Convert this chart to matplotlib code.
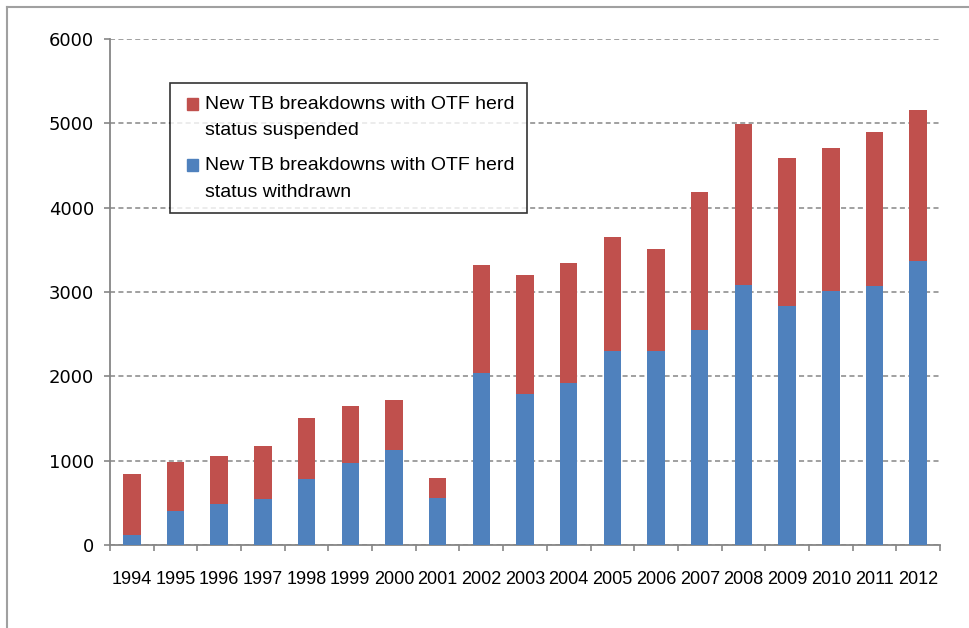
import matplotlib.pyplot as plt
import numpy as np
from matplotlib.lines import Line2D
from matplotlib.patches import Rectangle, Patch
from matplotlib.legend_handler import HandlerPatch

# data
years = [str(y) for y in range(1994, 2013)]
withdrawn = [114, 404, 485, 542, 779, 969, 1121, 561, 2038, 1786,
             1924, 2295, 2295, 2546, 3088, 2836, 3012, 3074, 3363]
totals = [846, 988, 1059, 1178, 1511, 1648, 1724, 793, 3321, 3207,
          3344, 3653, 3515, 4181, 4998, 4594, 4708, 4903, 5154]
suspended = [t - w for t, w in zip(totals, withdrawn)]

blue = '#4F81BD'
red = '#C0504D'
grey = '#868686'

lbl_withdrawn = 'New TB breakdowns with OTF herd\nstatus withdrawn'
lbl_suspended = 'New TB breakdowns with OTF herd\nstatus suspended'

plt.rcParams['font.family'] = ['Liberation Sans', 'DejaVu Sans']

fig = plt.figure(figsize=(9.69, 6.28), dpi=100)
ax = fig.add_axes([110 / 969, 83 / 628, 830 / 969, 506 / 628])

x = np.arange(len(years))
ax.bar(x, withdrawn, width=0.4, color=blue, zorder=3)
ax.bar(x, suspended, width=0.4, bottom=withdrawn, color=red, zorder=3)

ax.set_xlim(-0.5, len(years) - 0.5)
ax.set_ylim(0, 6000)
ax.set_yticks(range(0, 6001, 1000))
ax.set_xticks(x)
ax.set_xticklabels(years)
ax.set_xticks(np.arange(-0.5, len(years)), minor=True)
ax.tick_params(axis='x', which='major', length=0, pad=19, labelsize=13)
ax.tick_params(axis='x', which='minor', length=4.5, color=grey, width=1.2)
ax.tick_params(axis='y', length=4.5, color=grey, width=1.2, pad=7)
for t in ax.get_yticklabels():
    t.set_fontfamily('DejaVu Sans')
    t.set_fontsize(13)

ax.yaxis.grid(True, linestyle=(0, (3.3, 2.2)), color=grey, linewidth=1.1, zorder=0)
for s in ['top', 'right']:
    ax.spines[s].set_visible(False)
for s in ['left', 'bottom']:
    ax.spines[s].set_color(grey)
    ax.spines[s].set_linewidth(1.3)


# legend square sits next to the first line of the label, like Excel does
def square(legend, orig_handle, xdescent, ydescent, width, height, fontsize):
    return Rectangle((-xdescent + 3, -ydescent + 9.5), width, height)


handles = [Patch(color=red), Patch(color=blue)]
leg = ax.legend(handles, [lbl_suspended, lbl_withdrawn], loc='upper left',
                bbox_to_anchor=(60 / 830, 462 / 506), borderaxespad=0,
                fontsize=14, frameon=True, fancybox=False, edgecolor='black',
                handlelength=0.55, handleheight=0.55, handletextpad=0.6,
                labelspacing=0.9, borderpad=0.65,
                handler_map={Patch: HandlerPatch(patch_func=square)})
leg.get_frame().set_linewidth(1.2)
for t in leg.get_texts():
    t.set_linespacing(1.75)

# screenshot frame at top and left
fig.add_artist(Line2D([7 / 969, 1], [1 - 7 / 628, 1 - 7 / 628], color='#A0A0A0', lw=1.5))
fig.add_artist(Line2D([7 / 969, 7 / 969], [0, 1 - 7 / 628], color='#A0A0A0', lw=1.5))

fig.savefig('out.png', dpi=100)
